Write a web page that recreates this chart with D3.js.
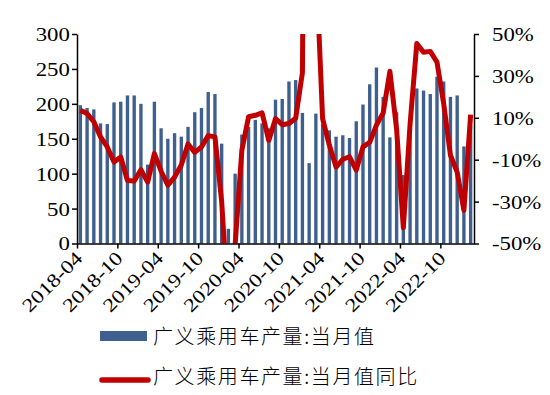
<!DOCTYPE html>
<html>
<head>
<meta charset="utf-8">
<script src="https://cdn.jsdelivr.net/npm/d3@7"></script>
<style>
  body { margin: 0; background: #fff; }
  svg { display: block; }
</style>
</head>
<body>
<div id="chart"></div>
<script>
// monthly categories, 2018-04 .. 2023-02
const months = [
  '2018-04','2018-05','2018-06','2018-07','2018-08','2018-09','2018-10','2018-11','2018-12',
  '2019-01','2019-02','2019-03','2019-04','2019-05','2019-06','2019-07','2019-08','2019-09','2019-10','2019-11','2019-12',
  '2020-01','2020-02','2020-03','2020-04','2020-05','2020-06','2020-07','2020-08','2020-09','2020-10','2020-11','2020-12',
  '2021-01','2021-02','2021-03','2021-04','2021-05','2021-06','2021-07','2021-08','2021-09','2021-10','2021-11','2021-12',
  '2022-01','2022-02','2022-03','2022-04','2022-05','2022-06','2022-07','2022-08','2022-09','2022-10','2022-11','2022-12',
  '2023-01','2023-02'
];

// 广义乘用车产量:当月值 (万辆)
const output = [
  198, 194, 192, 172, 171, 202, 203, 212, 212, 200,
  113, 203, 165, 150, 158, 153, 167, 188, 194, 217,
  214, 143, 21, 100, 156, 167, 177, 172, 165, 206,
  207, 232, 234, 187, 115, 186, 171, 162, 153, 155,
  151, 175, 199, 228, 252, 210, 152, 188, 98, 173,
  222, 219, 214, 239, 232, 210, 212, 139, 168
];

// 广义乘用车产量:当月值同比 (%)
const yoy = [
  13.6, 12.0, 8.1, 0.9, -3.9, -11.1, -8.7, -19.9, -20.2, -14.8,
  -20.7, -7.1, -15.5, -22.2, -18.3, -12.5, -2.5, -6.5, -3.9, 1.5,
  0.9, -30.0, -81.4, -50.7, -5.5, 10.5, 11.2, 12.4, -0.8, 9.6,
  6.7, 7.3, 9.8, 31.5, 447.6, 86.0, 9.6, -3.0, -13.5, -9.8,
  -8.6, -15.0, -3.9, -1.7, 6.5, 12.3, 32.2, 4.5, -42.5, 7.0,
  45.5, 41.3, 41.7, 36.6, 16.6, -7.9, -15.9, -34.2, 11.5
];

const leftTicks = [0, 50, 100, 150, 200, 250, 300];
const rightTicks = [-50, -30, -10, 10, 30, 50];
const xTickIdx = [0, 6, 12, 18, 24, 30, 36, 42, 48, 54];

const legendNames = ['广义乘用车产量:当月值', '广义乘用车产量:当月值同比'];

const W = 550, H = 395;
const plot = { left: 77, right: 474, top: 34, bottom: 243.5 };
const blue = '#3f608e', red = '#c00000';
const numFont = '"Liberation Serif", "Times New Roman", serif';
const stretch = 1.2;

const svg = d3.select('#chart').append('svg')
  .attr('width', W)
  .attr('height', H);

const x = d3.scaleBand()
  .domain(months)
  .range([plot.left, plot.right])
  .padding(0);

// boundaries between months, for the category ticks
const xEdge = d3.scaleLinear()
  .domain([0, months.length])
  .range([plot.left, plot.right]);

const y = d3.scaleLinear()
  .domain([0, 300])
  .range([plot.bottom, plot.top]);

const y2 = d3.scaleLinear()
  .domain([-50, 50])
  .range([plot.bottom, plot.top]);

svg.append('defs').append('clipPath')
  .attr('id', 'plot-clip')
  .append('rect')
  .attr('x', plot.left)
  .attr('y', plot.top)
  .attr('width', plot.right - plot.left)
  .attr('height', plot.bottom - plot.top);

// bars
const barW = x.bandwidth() * 0.5;
svg.append('g')
  .selectAll('rect')
  .data(output)
  .enter()
  .append('rect')
  .attr('x', (d, i) => x(months[i]) + (x.bandwidth() - barW) / 2)
  .attr('y', d => y(d))
  .attr('width', barW)
  .attr('height', d => y(0) - y(d))
  .attr('fill', blue);

// yoy line
const line = d3.line()
  .x((d, i) => x(months[i]) + x.bandwidth() / 2)
  .y(d => y2(d));

svg.append('path')
  .datum(yoy)
  .attr('clip-path', 'url(#plot-clip)')
  .attr('fill', 'none')
  .attr('stroke', red)
  .attr('stroke-width', 5)
  .attr('stroke-linejoin', 'round')
  .attr('d', line);

// left axis
const gLeft = svg.append('g')
  .attr('transform', `translate(${plot.left},0)`)
  .call(d3.axisLeft(y).tickValues(leftTicks).tickSize(5).tickSizeOuter(0));

gLeft.selectAll('text')
  .attr('x', -6)
  .attr('dy', '0.34em')
  .attr('transform', `scale(${stretch},1)`)
  .style('font-family', numFont)
  .style('font-size', '19px')
  .style('fill', '#000');

// right axis
const gRight = svg.append('g')
  .attr('transform', `translate(${plot.right},0)`)
  .call(d3.axisRight(y2).tickValues(rightTicks).tickSize(5).tickSizeOuter(0)
    .tickFormat(d => d + '%'));

gRight.selectAll('text')
  .attr('x', 15)
  .attr('dy', '0.34em')
  .attr('transform', `scale(${stretch},1)`)
  .style('font-family', numFont)
  .style('font-size', '19px')
  .style('fill', '#000');

// bottom axis
const gBottom = svg.append('g')
  .attr('transform', `translate(0,${plot.bottom})`)
  .call(d3.axisBottom(xEdge).tickValues(xTickIdx).tickSize(5).tickSizeOuter(0)
    .tickFormat(i => months[i]));

gBottom.selectAll('text')
  .attr('x', 0)
  .attr('y', 0)
  .attr('dy', 0)
  .attr('text-anchor', 'end')
  .attr('transform', `translate(6,16) rotate(-45) scale(${stretch},1)`)
  .style('font-family', numFont)
  .style('font-size', '19px')
  .style('fill', '#000');

svg.selectAll('.domain, .tick line')
  .attr('stroke', '#000')
  .attr('stroke-width', 1.5);

// legend
const cjkFont = '"Noto Sans CJK SC", sans-serif';
const legend = svg.append('g');

legend.append('rect')
  .attr('x', 100)
  .attr('y', 331)
  .attr('width', 47)
  .attr('height', 10)
  .attr('fill', blue);

legend.append('line')
  .attr('x1', 102)
  .attr('x2', 148)
  .attr('y1', 380)
  .attr('y2', 380)
  .attr('stroke', red)
  .attr('stroke-width', 5.5)
  .attr('stroke-linecap', 'round');

legend.selectAll('text')
  .data(legendNames)
  .enter()
  .append('text')
  .attr('x', 153)
  .attr('y', (d, i) => i === 0 ? 344 : 384)
  .style('font-family', cjkFont)
  .style('font-size', '20px')
  .style('font-weight', 300)
  .style('letter-spacing', '1.6px')
  .style('fill', '#000')
  .text(d => d);
</script>
</body>
</html>
